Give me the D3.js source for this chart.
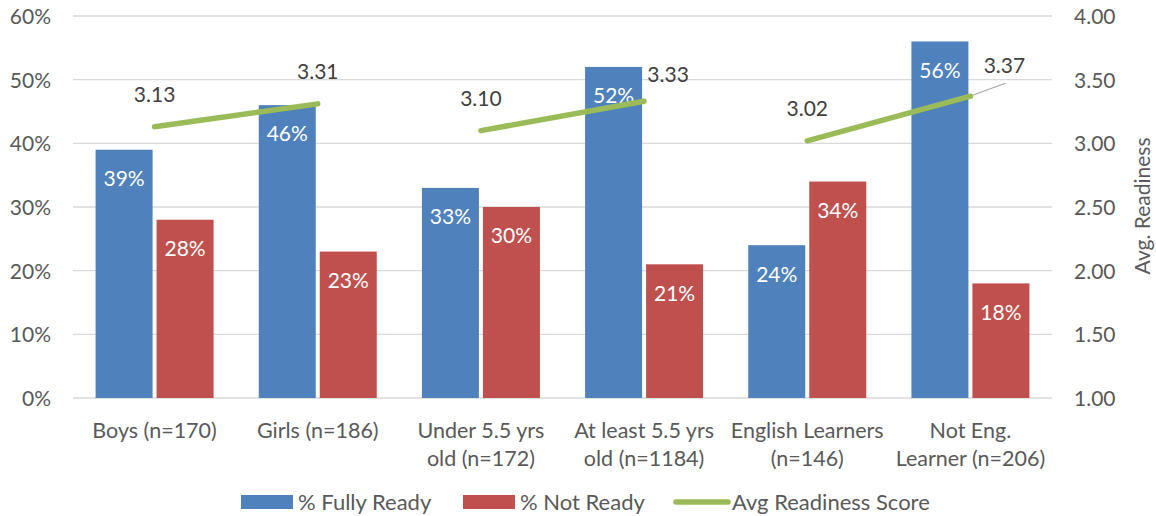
<!DOCTYPE html>
<html><head><meta charset="utf-8">
<script src="https://cdn.jsdelivr.net/npm/d3@7"></script>
<style>
body{margin:0;background:#fff;}
svg text{font-family:Lato,"Open Sans",sans-serif;}
</style></head>
<body>
<svg id="chart" width="1156" height="516"></svg>
<script>
const categories = [["Boys (n=170)"],["Girls (n=186)"],["Under 5.5 yrs","old (n=172)"],["At least 5.5 yrs","old (n=1184)"],["English Learners","(n=146)"],["Not Eng.","Learner (n=206)"]];
const fullyReady = [39,46,33,52,24,56];
const notReady = [28,23,30,21,34,18];
const avgScore = [3.13,3.31,3.10,3.33,3.02,3.37];
const leftTicks = [0,10,20,30,40,50,60];
const rightTicks = [1.00,1.50,2.00,2.50,3.00,3.50,4.00];
const seriesNames = ["% Fully Ready","% Not Ready","Avg Readiness Score"];
const linePairs = [[0,1],[2,3],[4,5]];
// label offsets (layout only)
const labelOffsets = [[0,-32],[0,-32],[0,-32],[24,-27],[0,-32],[34,-31]];

const colors = {blue:"#4F81BD", red:"#C0504D", green:"#9BBB59", text:"#595959", grid:"#D9D9D9"};
const svg = d3.select("#chart");
const pLeft = 73, pRight = 1052, pTop = 16, pBottom = 398;
const fs = "21px";

const x = d3.scaleBand().domain(d3.range(categories.length)).range([pLeft,pRight]).paddingInner(0).paddingOuter(0);
const yL = d3.scaleLinear().domain([0,60]).range([pBottom,pTop]);
const yR = d3.scaleLinear().domain([1,4]).range([pBottom,pTop]);
const barW = 57, gap = 4;

// gridlines
svg.append("g").selectAll("line").data(leftTicks).join("line")
  .attr("x1",pLeft).attr("x2",pRight)
  .attr("y1",d=>yL(d)).attr("y2",d=>yL(d))
  .attr("stroke",colors.grid).attr("stroke-width",1.3);

// left axis
const axL = d3.axisLeft(yL).tickValues(leftTicks).tickFormat(d=>d+"%").tickSize(0).tickPadding(0);
const gL = svg.append("g").attr("transform",`translate(51,0)`).call(axL);
gL.select(".domain").remove();
gL.selectAll("text").attr("fill",colors.text).style("font-size",fs).attr("dy","0.35em");

// right axis
const axR = d3.axisRight(yR).tickValues(rightTicks).tickFormat(d3.format(".2f")).tickSize(0).tickPadding(0);
const gR = svg.append("g").attr("transform",`translate(1074,0)`).call(axR);
gR.select(".domain").remove();
gR.selectAll("text").attr("fill",colors.text).style("font-size",fs).attr("dy","0.35em");

// right axis title
svg.append("text").attr("transform","translate(1150,206) rotate(-90)")
  .attr("text-anchor","middle").attr("fill",colors.text).style("font-size",fs).text("Avg. Readiness");

const cx = i => x(i) + x.bandwidth()/2;

// bars
const gB = svg.append("g");
gB.selectAll("rect.f").data(fullyReady).join("rect").attr("class","f")
  .attr("x",(d,i)=>cx(i)-gap/2-barW).attr("width",barW)
  .attr("y",d=>yL(d)).attr("height",d=>yL(0)-yL(d)).attr("fill",colors.blue);
gB.selectAll("rect.n").data(notReady).join("rect").attr("class","n")
  .attr("x",(d,i)=>cx(i)+gap/2).attr("width",barW)
  .attr("y",d=>yL(d)).attr("height",d=>yL(0)-yL(d)).attr("fill",colors.red);

// bar labels
gB.selectAll("text.f").data(fullyReady).join("text").attr("class","f")
  .attr("x",(d,i)=>cx(i)-gap/2-barW/2).attr("y",d=>yL(d)+29).attr("dy","0.35em")
  .attr("text-anchor","middle").attr("fill","#fff").style("font-size",fs).text(d=>d+"%");
gB.selectAll("text.n").data(notReady).join("text").attr("class","n")
  .attr("x",(d,i)=>cx(i)+gap/2+barW/2).attr("y",d=>yL(d)+29).attr("dy","0.35em")
  .attr("text-anchor","middle").attr("fill","#fff").style("font-size",fs).text(d=>d+"%");

// lines
const line = d3.line().x(i=>cx(i)).y(i=>yR(avgScore[i]));
svg.append("g").selectAll("path").data(linePairs).join("path")
  .attr("d",p=>line(p)).attr("fill","none").attr("stroke",colors.green)
  .attr("stroke-width",5.5).attr("stroke-linecap","round");

// leader line for last label
const li = 5;
svg.append("line").attr("x1",cx(li)+2).attr("y1",yR(avgScore[li])-1)
  .attr("x2",cx(li)+labelOffsets[li][0]+1).attr("y2",yR(avgScore[li])+labelOffsets[li][1]+18)
  .attr("stroke","#A6A6A6").attr("stroke-width",1.2);

// line labels
svg.append("g").selectAll("text").data(avgScore).join("text")
  .attr("x",(d,i)=>cx(i)+labelOffsets[i][0]).attr("y",(d,i)=>yR(d)+labelOffsets[i][1]).attr("dy","0.35em")
  .attr("text-anchor","middle").attr("fill","#404040").style("font-size",fs).text(d=>d.toFixed(2));

// category labels
const gC = svg.append("g");
categories.forEach((lines,i)=>{
  const t = gC.append("text").attr("text-anchor","middle").attr("fill",colors.text).style("font-size","21.5px");
  lines.forEach((s,j)=>{
    t.append("tspan").attr("x",cx(i)).attr("y",430+j*28).attr("dy","0.35em").text(s);
  });
});

// legend
const lg = svg.append("g");
const lfs = "22px";
lg.append("rect").attr("x",241).attr("y",495).attr("width",52).attr("height",14).attr("fill",colors.blue);
lg.append("text").attr("x",298).attr("y",502).attr("dy","0.35em").attr("fill",colors.text).style("font-size",lfs).text(seriesNames[0]);
lg.append("rect").attr("x",463).attr("y",495).attr("width",52).attr("height",14).attr("fill",colors.red);
lg.append("text").attr("x",520).attr("y",502).attr("dy","0.35em").attr("fill",colors.text).style("font-size",lfs).text(seriesNames[1]);
lg.append("line").attr("x1",676).attr("x2",728).attr("y1",502).attr("y2",502).attr("stroke",colors.green).attr("stroke-width",5.5).attr("stroke-linecap","round");
lg.append("text").attr("x",732).attr("y",502).attr("dy","0.35em").attr("fill",colors.text).style("font-size",lfs).text(seriesNames[2]);
</script>
</body></html>
